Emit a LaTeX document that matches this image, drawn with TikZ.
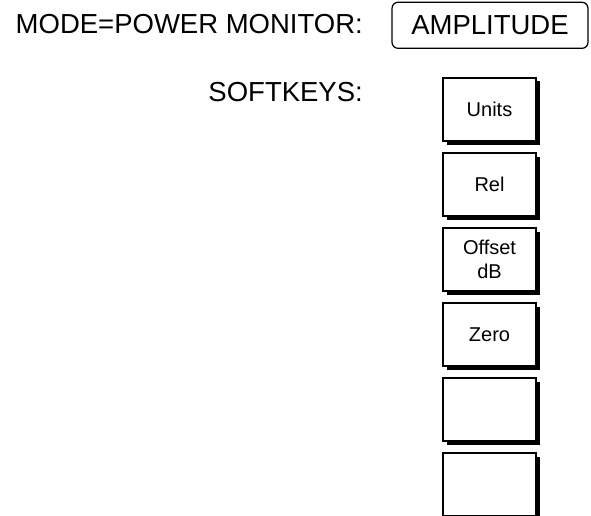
\documentclass[tikz,border=0pt]{standalone}
\usepackage{fontspec}
\setmainfont{Liberation Sans}
\usepackage{tikz}
\usetikzlibrary{positioning,shadows}

\begin{document}
\begin{tikzpicture}[x=1pt,y=-1pt]
  \useasboundingbox (0,0) rectangle (591,516);

  \tikzstyle{BigText}=[inner sep=0pt,font=\fontsize{27.5}{33}\selectfont]
  \tikzstyle{ModeKey}=[draw,line width=1.2pt,rounded corners=6pt,
                       minimum width=196pt,minimum height=46pt,BigText]
  \tikzstyle{SoftKey}=[draw,line width=1.2pt,fill=white,inner sep=0pt,
                       minimum width=93pt,minimum height=63pt,align=center,
                       font=\fontsize{20}{24}\selectfont,
                       drop shadow={shadow xshift=3.5pt,shadow yshift=-3.5pt,
                                    fill=black,opacity=1}]

  \node[BigText,anchor=base east] (mode) at (363,33.3) {MODE=POWER MONITOR:};
  \node[ModeKey] (amplitude) at (490,25.3) {AMPLITUDE};
  \node[BigText,anchor=base east] (softkeys) at (363,102) {SOFTKEYS:};

  \node[SoftKey] (units)  at (489.5,109.5) {Units};
  \node[SoftKey] (rel)    at (489.5,184.5) {Rel};
  \node[SoftKey] (offset) at (489.5,259.5) {Offset\\dB};
  \node[SoftKey] (zero)   at (489.5,334.5) {Zero};
  \node[SoftKey] (blankA) at (489.5,409.5) {};
  \node[SoftKey] (blankB) at (489.5,484.5) {};
\end{tikzpicture}
\end{document}
